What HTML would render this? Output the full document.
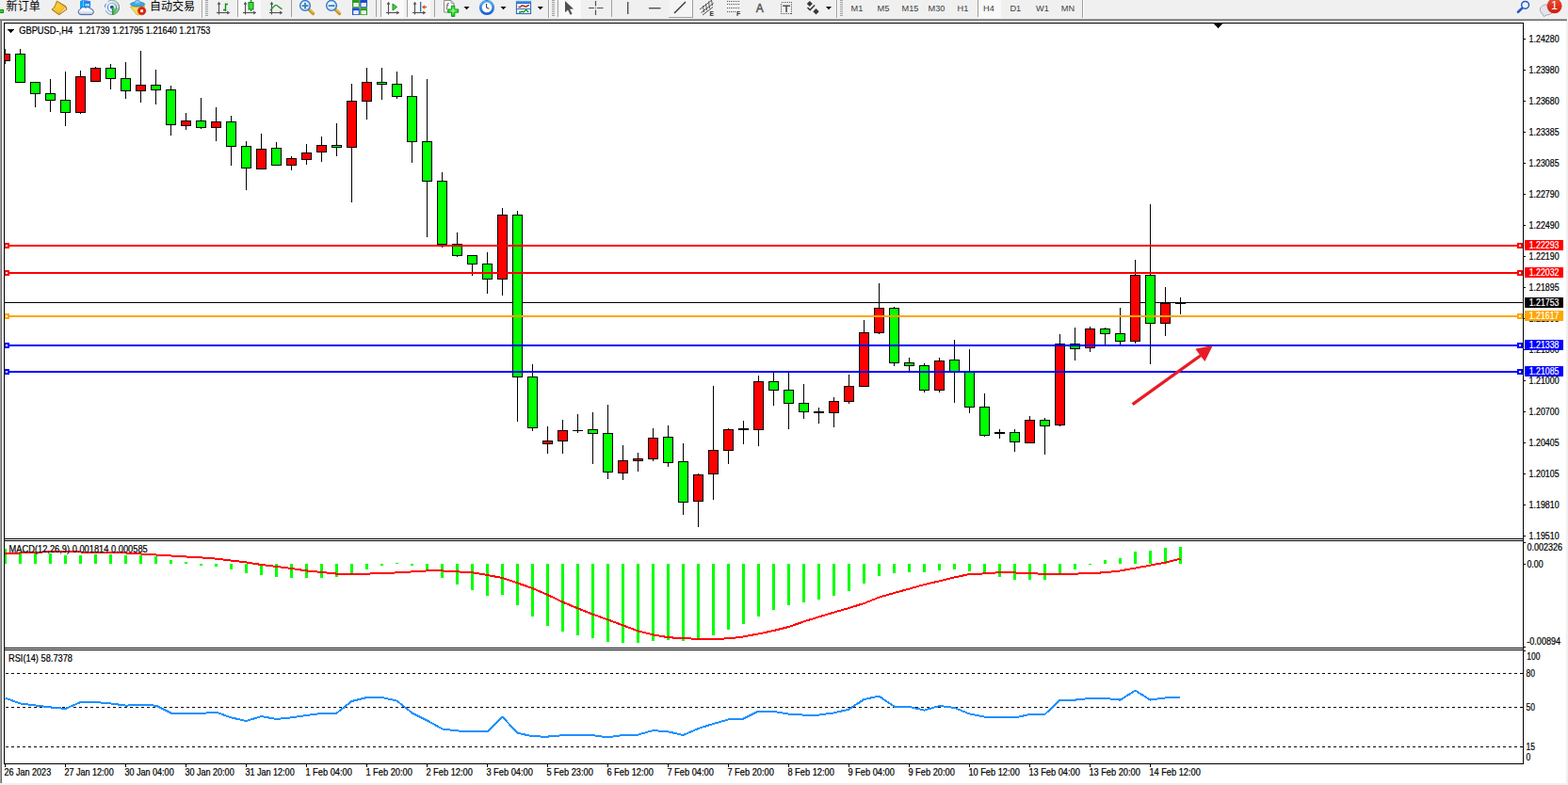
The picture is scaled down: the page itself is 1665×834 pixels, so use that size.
<!DOCTYPE html>
<html><head><meta charset="utf-8"><title>GBPUSD H4</title>
<style>
html,body{margin:0;padding:0;background:#fff;overflow:hidden}
body{width:1665px;height:834px;font-family:"Liberation Sans", sans-serif}
svg{position:absolute;left:0;top:0;display:block}
text{font-family:"Liberation Sans", sans-serif;white-space:pre}
</style></head><body>
<svg width="1665" height="834" viewBox="0 0 1665 834">
<g shape-rendering="crispEdges">
<rect x="0" y="0" width="1665" height="834" fill="#ffffff"/>
<rect x="0" y="0" width="1665" height="20" fill="#f0f0f0"/>
<rect x="0" y="20" width="1664" height="1" fill="#a0a0a0"/>
<rect x="0" y="21" width="1664" height="1" fill="#696969"/>
<rect x="0" y="22" width="1" height="810" fill="#a0a0a0"/>
<rect x="1" y="22" width="1" height="810" fill="#696969"/>
<rect x="1663" y="22" width="2" height="812" fill="#f0f0f0"/>
<rect x="0" y="832" width="1665" height="2" fill="#f0f0f0"/>
</g>
<defs><clipPath id="cm"><rect x="5" y="25" width="1612" height="547"/></clipPath></defs>
<g shape-rendering="crispEdges" clip-path="url(#cm)">
<rect x="5" y="321" width="1613" height="1" fill="#000"/>
<rect x="5" y="52" width="1" height="16" fill="#000"/>
<rect x="0" y="57" width="11" height="8" fill="#000"/>
<rect x="1" y="58" width="9" height="6" fill="#ff0000"/>
<rect x="21" y="52" width="1" height="36" fill="#000"/>
<rect x="16" y="57" width="11" height="31" fill="#000"/>
<rect x="17" y="58" width="9" height="29" fill="#00ff00"/>
<rect x="37" y="87" width="1" height="27" fill="#000"/>
<rect x="32" y="87" width="11" height="13" fill="#000"/>
<rect x="33" y="88" width="9" height="11" fill="#00ff00"/>
<rect x="53" y="84" width="1" height="35" fill="#000"/>
<rect x="48" y="99" width="11" height="8" fill="#000"/>
<rect x="49" y="100" width="9" height="6" fill="#00ff00"/>
<rect x="69" y="76" width="1" height="58" fill="#000"/>
<rect x="64" y="106" width="11" height="14" fill="#000"/>
<rect x="65" y="107" width="9" height="12" fill="#00ff00"/>
<rect x="85" y="75" width="1" height="46" fill="#000"/>
<rect x="80" y="81" width="11" height="39" fill="#000"/>
<rect x="81" y="82" width="9" height="37" fill="#ff0000"/>
<rect x="101" y="71" width="1" height="16" fill="#000"/>
<rect x="96" y="72" width="11" height="15" fill="#000"/>
<rect x="97" y="73" width="9" height="13" fill="#ff0000"/>
<rect x="117" y="68" width="1" height="27" fill="#000"/>
<rect x="112" y="72" width="11" height="12" fill="#000"/>
<rect x="113" y="73" width="9" height="10" fill="#00ff00"/>
<rect x="133" y="66" width="1" height="39" fill="#000"/>
<rect x="128" y="83" width="11" height="14" fill="#000"/>
<rect x="129" y="84" width="9" height="12" fill="#00ff00"/>
<rect x="149" y="54" width="1" height="55" fill="#000"/>
<rect x="144" y="90" width="11" height="7" fill="#000"/>
<rect x="145" y="91" width="9" height="5" fill="#ff0000"/>
<rect x="165" y="74" width="1" height="37" fill="#000"/>
<rect x="160" y="90" width="11" height="6" fill="#000"/>
<rect x="161" y="91" width="9" height="4" fill="#00ff00"/>
<rect x="181" y="91" width="1" height="53" fill="#000"/>
<rect x="176" y="95" width="11" height="38" fill="#000"/>
<rect x="177" y="96" width="9" height="36" fill="#00ff00"/>
<rect x="197" y="120" width="1" height="18" fill="#000"/>
<rect x="192" y="128" width="11" height="6" fill="#000"/>
<rect x="193" y="129" width="9" height="4" fill="#ff0000"/>
<rect x="213" y="104" width="1" height="33" fill="#000"/>
<rect x="208" y="128" width="11" height="8" fill="#000"/>
<rect x="209" y="129" width="9" height="6" fill="#00ff00"/>
<rect x="229" y="114" width="1" height="36" fill="#000"/>
<rect x="224" y="129" width="11" height="7" fill="#000"/>
<rect x="225" y="130" width="9" height="5" fill="#ff0000"/>
<rect x="245" y="123" width="1" height="53" fill="#000"/>
<rect x="240" y="129" width="11" height="27" fill="#000"/>
<rect x="241" y="130" width="9" height="25" fill="#00ff00"/>
<rect x="261" y="150" width="1" height="52" fill="#000"/>
<rect x="256" y="155" width="11" height="24" fill="#000"/>
<rect x="257" y="156" width="9" height="22" fill="#00ff00"/>
<rect x="277" y="142" width="1" height="38" fill="#000"/>
<rect x="272" y="158" width="11" height="22" fill="#000"/>
<rect x="273" y="159" width="9" height="20" fill="#ff0000"/>
<rect x="293" y="151" width="1" height="25" fill="#000"/>
<rect x="288" y="157" width="11" height="19" fill="#000"/>
<rect x="289" y="158" width="9" height="17" fill="#00ff00"/>
<rect x="309" y="166" width="1" height="15" fill="#000"/>
<rect x="304" y="168" width="11" height="8" fill="#000"/>
<rect x="305" y="169" width="9" height="6" fill="#ff0000"/>
<rect x="325" y="153" width="1" height="22" fill="#000"/>
<rect x="320" y="162" width="11" height="8" fill="#000"/>
<rect x="321" y="163" width="9" height="6" fill="#ff0000"/>
<rect x="341" y="145" width="1" height="27" fill="#000"/>
<rect x="336" y="154" width="11" height="8" fill="#000"/>
<rect x="337" y="155" width="9" height="6" fill="#ff0000"/>
<rect x="357" y="131" width="1" height="35" fill="#000"/>
<rect x="352" y="154" width="11" height="3" fill="#000"/>
<rect x="353" y="155" width="9" height="1" fill="#00ff00"/>
<rect x="373" y="89" width="1" height="126" fill="#000"/>
<rect x="368" y="107" width="11" height="50" fill="#000"/>
<rect x="369" y="108" width="9" height="48" fill="#ff0000"/>
<rect x="389" y="72" width="1" height="55" fill="#000"/>
<rect x="384" y="87" width="11" height="21" fill="#000"/>
<rect x="385" y="88" width="9" height="19" fill="#ff0000"/>
<rect x="405" y="72" width="1" height="34" fill="#000"/>
<rect x="400" y="87" width="11" height="3" fill="#000"/>
<rect x="401" y="88" width="9" height="1" fill="#00ff00"/>
<rect x="421" y="76" width="1" height="29" fill="#000"/>
<rect x="416" y="89" width="11" height="14" fill="#000"/>
<rect x="417" y="90" width="9" height="12" fill="#00ff00"/>
<rect x="437" y="80" width="1" height="93" fill="#000"/>
<rect x="432" y="102" width="11" height="49" fill="#000"/>
<rect x="433" y="103" width="9" height="47" fill="#00ff00"/>
<rect x="453" y="84" width="1" height="168" fill="#000"/>
<rect x="448" y="150" width="11" height="43" fill="#000"/>
<rect x="449" y="151" width="9" height="41" fill="#00ff00"/>
<rect x="469" y="183" width="1" height="80" fill="#000"/>
<rect x="464" y="192" width="11" height="68" fill="#000"/>
<rect x="465" y="193" width="9" height="66" fill="#00ff00"/>
<rect x="485" y="247" width="1" height="26" fill="#000"/>
<rect x="480" y="259" width="11" height="13" fill="#000"/>
<rect x="481" y="260" width="9" height="11" fill="#00ff00"/>
<rect x="501" y="271" width="1" height="22" fill="#000"/>
<rect x="496" y="271" width="11" height="10" fill="#000"/>
<rect x="497" y="272" width="9" height="8" fill="#00ff00"/>
<rect x="517" y="268" width="1" height="44" fill="#000"/>
<rect x="512" y="280" width="11" height="17" fill="#000"/>
<rect x="513" y="281" width="9" height="15" fill="#00ff00"/>
<rect x="533" y="221" width="1" height="93" fill="#000"/>
<rect x="528" y="228" width="11" height="69" fill="#000"/>
<rect x="529" y="229" width="9" height="67" fill="#ff0000"/>
<rect x="549" y="224" width="1" height="224" fill="#000"/>
<rect x="544" y="228" width="11" height="173" fill="#000"/>
<rect x="545" y="229" width="9" height="171" fill="#00ff00"/>
<rect x="565" y="387" width="1" height="71" fill="#000"/>
<rect x="560" y="400" width="11" height="55" fill="#000"/>
<rect x="561" y="401" width="9" height="53" fill="#00ff00"/>
<rect x="581" y="453" width="1" height="29" fill="#000"/>
<rect x="576" y="468" width="11" height="4" fill="#000"/>
<rect x="577" y="469" width="9" height="2" fill="#ff0000"/>
<rect x="597" y="446" width="1" height="36" fill="#000"/>
<rect x="592" y="457" width="11" height="12" fill="#000"/>
<rect x="593" y="458" width="9" height="10" fill="#ff0000"/>
<rect x="613" y="440" width="1" height="20" fill="#000"/>
<rect x="608" y="457" width="11" height="1" fill="#000"/>
<rect x="629" y="438" width="1" height="55" fill="#000"/>
<rect x="624" y="456" width="11" height="5" fill="#000"/>
<rect x="625" y="457" width="9" height="3" fill="#00ff00"/>
<rect x="645" y="430" width="1" height="79" fill="#000"/>
<rect x="640" y="460" width="11" height="42" fill="#000"/>
<rect x="641" y="461" width="9" height="40" fill="#00ff00"/>
<rect x="661" y="473" width="1" height="37" fill="#000"/>
<rect x="656" y="489" width="11" height="14" fill="#000"/>
<rect x="657" y="490" width="9" height="12" fill="#ff0000"/>
<rect x="677" y="481" width="1" height="20" fill="#000"/>
<rect x="672" y="487" width="11" height="3" fill="#000"/>
<rect x="673" y="488" width="9" height="1" fill="#ff0000"/>
<rect x="693" y="455" width="1" height="35" fill="#000"/>
<rect x="688" y="465" width="11" height="23" fill="#000"/>
<rect x="689" y="466" width="9" height="21" fill="#ff0000"/>
<rect x="709" y="452" width="1" height="44" fill="#000"/>
<rect x="704" y="464" width="11" height="28" fill="#000"/>
<rect x="705" y="465" width="9" height="26" fill="#00ff00"/>
<rect x="725" y="471" width="1" height="76" fill="#000"/>
<rect x="720" y="490" width="11" height="44" fill="#000"/>
<rect x="721" y="491" width="9" height="42" fill="#00ff00"/>
<rect x="741" y="503" width="1" height="57" fill="#000"/>
<rect x="736" y="504" width="11" height="29" fill="#000"/>
<rect x="737" y="505" width="9" height="27" fill="#ff0000"/>
<rect x="757" y="410" width="1" height="121" fill="#000"/>
<rect x="752" y="478" width="11" height="26" fill="#000"/>
<rect x="753" y="479" width="9" height="24" fill="#ff0000"/>
<rect x="773" y="455" width="1" height="38" fill="#000"/>
<rect x="768" y="456" width="11" height="23" fill="#000"/>
<rect x="769" y="457" width="9" height="21" fill="#ff0000"/>
<rect x="789" y="447" width="1" height="25" fill="#000"/>
<rect x="784" y="455" width="11" height="2" fill="#000"/>
<rect x="805" y="399" width="1" height="75" fill="#000"/>
<rect x="800" y="405" width="11" height="52" fill="#000"/>
<rect x="801" y="406" width="9" height="50" fill="#ff0000"/>
<rect x="821" y="396" width="1" height="35" fill="#000"/>
<rect x="816" y="405" width="11" height="10" fill="#000"/>
<rect x="817" y="406" width="9" height="8" fill="#00ff00"/>
<rect x="837" y="396" width="1" height="60" fill="#000"/>
<rect x="832" y="414" width="11" height="15" fill="#000"/>
<rect x="833" y="415" width="9" height="13" fill="#00ff00"/>
<rect x="853" y="408" width="1" height="37" fill="#000"/>
<rect x="848" y="428" width="11" height="10" fill="#000"/>
<rect x="849" y="429" width="9" height="8" fill="#00ff00"/>
<rect x="869" y="433" width="1" height="17" fill="#000"/>
<rect x="864" y="437" width="11" height="2" fill="#000"/>
<rect x="885" y="422" width="1" height="32" fill="#000"/>
<rect x="880" y="426" width="11" height="13" fill="#000"/>
<rect x="881" y="427" width="9" height="11" fill="#ff0000"/>
<rect x="901" y="398" width="1" height="31" fill="#000"/>
<rect x="896" y="410" width="11" height="17" fill="#000"/>
<rect x="897" y="411" width="9" height="15" fill="#ff0000"/>
<rect x="917" y="340" width="1" height="71" fill="#000"/>
<rect x="912" y="353" width="11" height="58" fill="#000"/>
<rect x="913" y="354" width="9" height="56" fill="#ff0000"/>
<rect x="933" y="301" width="1" height="54" fill="#000"/>
<rect x="928" y="327" width="11" height="27" fill="#000"/>
<rect x="929" y="328" width="9" height="25" fill="#ff0000"/>
<rect x="949" y="326" width="1" height="63" fill="#000"/>
<rect x="944" y="327" width="11" height="59" fill="#000"/>
<rect x="945" y="328" width="9" height="57" fill="#00ff00"/>
<rect x="965" y="380" width="1" height="14" fill="#000"/>
<rect x="960" y="385" width="11" height="4" fill="#000"/>
<rect x="961" y="386" width="9" height="2" fill="#00ff00"/>
<rect x="981" y="386" width="1" height="31" fill="#000"/>
<rect x="976" y="388" width="11" height="27" fill="#000"/>
<rect x="977" y="389" width="9" height="25" fill="#00ff00"/>
<rect x="997" y="380" width="1" height="37" fill="#000"/>
<rect x="992" y="383" width="11" height="32" fill="#000"/>
<rect x="993" y="384" width="9" height="30" fill="#ff0000"/>
<rect x="1013" y="361" width="1" height="67" fill="#000"/>
<rect x="1008" y="382" width="11" height="14" fill="#000"/>
<rect x="1009" y="383" width="9" height="12" fill="#00ff00"/>
<rect x="1029" y="371" width="1" height="68" fill="#000"/>
<rect x="1024" y="394" width="11" height="39" fill="#000"/>
<rect x="1025" y="395" width="9" height="37" fill="#00ff00"/>
<rect x="1045" y="418" width="1" height="46" fill="#000"/>
<rect x="1040" y="432" width="11" height="31" fill="#000"/>
<rect x="1041" y="433" width="9" height="29" fill="#00ff00"/>
<rect x="1061" y="456" width="1" height="10" fill="#000"/>
<rect x="1056" y="459" width="11" height="2" fill="#000"/>
<rect x="1077" y="456" width="1" height="24" fill="#000"/>
<rect x="1072" y="459" width="11" height="11" fill="#000"/>
<rect x="1073" y="460" width="9" height="9" fill="#00ff00"/>
<rect x="1093" y="442" width="1" height="29" fill="#000"/>
<rect x="1088" y="446" width="11" height="25" fill="#000"/>
<rect x="1089" y="447" width="9" height="23" fill="#ff0000"/>
<rect x="1109" y="444" width="1" height="39" fill="#000"/>
<rect x="1104" y="446" width="11" height="7" fill="#000"/>
<rect x="1105" y="447" width="9" height="5" fill="#00ff00"/>
<rect x="1125" y="355" width="1" height="98" fill="#000"/>
<rect x="1120" y="365" width="11" height="87" fill="#000"/>
<rect x="1121" y="366" width="9" height="85" fill="#ff0000"/>
<rect x="1141" y="348" width="1" height="35" fill="#000"/>
<rect x="1136" y="365" width="11" height="6" fill="#000"/>
<rect x="1137" y="366" width="9" height="4" fill="#00ff00"/>
<rect x="1157" y="347" width="1" height="27" fill="#000"/>
<rect x="1152" y="349" width="11" height="21" fill="#000"/>
<rect x="1153" y="350" width="9" height="19" fill="#ff0000"/>
<rect x="1173" y="348" width="1" height="18" fill="#000"/>
<rect x="1168" y="349" width="11" height="6" fill="#000"/>
<rect x="1169" y="350" width="9" height="4" fill="#00ff00"/>
<rect x="1189" y="327" width="1" height="39" fill="#000"/>
<rect x="1184" y="354" width="11" height="9" fill="#000"/>
<rect x="1185" y="355" width="9" height="7" fill="#00ff00"/>
<rect x="1205" y="276" width="1" height="89" fill="#000"/>
<rect x="1200" y="292" width="11" height="71" fill="#000"/>
<rect x="1201" y="293" width="9" height="69" fill="#ff0000"/>
<rect x="1221" y="217" width="1" height="170" fill="#000"/>
<rect x="1216" y="292" width="11" height="52" fill="#000"/>
<rect x="1217" y="293" width="9" height="50" fill="#00ff00"/>
<rect x="1237" y="305" width="1" height="52" fill="#000"/>
<rect x="1232" y="322" width="11" height="22" fill="#000"/>
<rect x="1233" y="323" width="9" height="20" fill="#ff0000"/>
<rect x="1253" y="316" width="1" height="18" fill="#000"/>
<rect x="1248" y="322" width="11" height="1" fill="#000"/>
</g><g shape-rendering="crispEdges">
<rect x="5" y="260" width="1613" height="2" fill="#ff0000"/>
<rect x="4" y="258" width="6" height="6" fill="#ff0000"/>
<rect x="6" y="260" width="2" height="2" fill="#fff"/>
<rect x="1611" y="258" width="6" height="6" fill="#ff0000"/>
<rect x="1613" y="260" width="2" height="2" fill="#fff"/>
<rect x="5" y="289" width="1613" height="2" fill="#ff0000"/>
<rect x="4" y="287" width="6" height="6" fill="#ff0000"/>
<rect x="6" y="289" width="2" height="2" fill="#fff"/>
<rect x="1611" y="287" width="6" height="6" fill="#ff0000"/>
<rect x="1613" y="289" width="2" height="2" fill="#fff"/>
<rect x="5" y="335" width="1613" height="2" fill="#ffa500"/>
<rect x="4" y="333" width="6" height="6" fill="#ffa500"/>
<rect x="6" y="335" width="2" height="2" fill="#fff"/>
<rect x="1611" y="333" width="6" height="6" fill="#ffa500"/>
<rect x="1613" y="335" width="2" height="2" fill="#fff"/>
<rect x="5" y="366" width="1613" height="2" fill="#0000ff"/>
<rect x="4" y="364" width="6" height="6" fill="#0000ff"/>
<rect x="6" y="366" width="2" height="2" fill="#fff"/>
<rect x="1611" y="364" width="6" height="6" fill="#0000ff"/>
<rect x="1613" y="366" width="2" height="2" fill="#fff"/>
<rect x="5" y="394" width="1613" height="2" fill="#0000ff"/>
<rect x="4" y="392" width="6" height="6" fill="#0000ff"/>
<rect x="6" y="394" width="2" height="2" fill="#fff"/>
<rect x="1611" y="392" width="6" height="6" fill="#0000ff"/>
<rect x="1613" y="394" width="2" height="2" fill="#fff"/>
</g>
<g fill="#e81c24" stroke="none"><path d="M1201.65 428.3 L1203.55 430.9 L1275.9 379 L1274 376.4 Z"/><path d="M1287.9 366.9 L1269.3 370.7 L1279.4 384.1 Z"/></g>
<g shape-rendering="crispEdges">
<rect x="4" y="583" width="3" height="16" fill="#00ff00"/>
<rect x="20" y="586" width="3" height="13" fill="#00ff00"/>
<rect x="36" y="587" width="3" height="12" fill="#00ff00"/>
<rect x="52" y="588" width="3" height="11" fill="#00ff00"/>
<rect x="68" y="590" width="3" height="9" fill="#00ff00"/>
<rect x="84" y="590" width="3" height="9" fill="#00ff00"/>
<rect x="100" y="589" width="3" height="10" fill="#00ff00"/>
<rect x="116" y="589" width="3" height="10" fill="#00ff00"/>
<rect x="132" y="590" width="3" height="9" fill="#00ff00"/>
<rect x="148" y="590" width="3" height="9" fill="#00ff00"/>
<rect x="164" y="591" width="3" height="8" fill="#00ff00"/>
<rect x="180" y="595" width="3" height="4" fill="#00ff00"/>
<rect x="196" y="597" width="3" height="2" fill="#00ff00"/>
<rect x="212" y="599" width="3" height="2" fill="#00ff00"/>
<rect x="228" y="599" width="3" height="3" fill="#00ff00"/>
<rect x="244" y="599" width="3" height="6" fill="#00ff00"/>
<rect x="260" y="599" width="3" height="10" fill="#00ff00"/>
<rect x="276" y="599" width="3" height="12" fill="#00ff00"/>
<rect x="292" y="599" width="3" height="14" fill="#00ff00"/>
<rect x="308" y="599" width="3" height="15" fill="#00ff00"/>
<rect x="324" y="599" width="3" height="15" fill="#00ff00"/>
<rect x="340" y="599" width="3" height="15" fill="#00ff00"/>
<rect x="356" y="599" width="3" height="14" fill="#00ff00"/>
<rect x="372" y="599" width="3" height="10" fill="#00ff00"/>
<rect x="388" y="599" width="3" height="6" fill="#00ff00"/>
<rect x="404" y="599" width="3" height="2" fill="#00ff00"/>
<rect x="420" y="598" width="3" height="1" fill="#00ff00"/>
<rect x="436" y="599" width="3" height="2" fill="#00ff00"/>
<rect x="452" y="599" width="3" height="7" fill="#00ff00"/>
<rect x="468" y="599" width="3" height="15" fill="#00ff00"/>
<rect x="484" y="599" width="3" height="22" fill="#00ff00"/>
<rect x="500" y="599" width="3" height="28" fill="#00ff00"/>
<rect x="516" y="599" width="3" height="34" fill="#00ff00"/>
<rect x="532" y="599" width="3" height="33" fill="#00ff00"/>
<rect x="548" y="599" width="3" height="44" fill="#00ff00"/>
<rect x="564" y="599" width="3" height="56" fill="#00ff00"/>
<rect x="580" y="599" width="3" height="66" fill="#00ff00"/>
<rect x="596" y="599" width="3" height="72" fill="#00ff00"/>
<rect x="612" y="599" width="3" height="76" fill="#00ff00"/>
<rect x="628" y="599" width="3" height="79" fill="#00ff00"/>
<rect x="644" y="599" width="3" height="83" fill="#00ff00"/>
<rect x="660" y="599" width="3" height="84" fill="#00ff00"/>
<rect x="676" y="599" width="3" height="84" fill="#00ff00"/>
<rect x="692" y="599" width="3" height="82" fill="#00ff00"/>
<rect x="708" y="599" width="3" height="81" fill="#00ff00"/>
<rect x="724" y="599" width="3" height="82" fill="#00ff00"/>
<rect x="740" y="599" width="3" height="79" fill="#00ff00"/>
<rect x="756" y="599" width="3" height="76" fill="#00ff00"/>
<rect x="772" y="599" width="3" height="70" fill="#00ff00"/>
<rect x="788" y="599" width="3" height="64" fill="#00ff00"/>
<rect x="804" y="599" width="3" height="56" fill="#00ff00"/>
<rect x="820" y="599" width="3" height="49" fill="#00ff00"/>
<rect x="836" y="599" width="3" height="44" fill="#00ff00"/>
<rect x="852" y="599" width="3" height="41" fill="#00ff00"/>
<rect x="868" y="599" width="3" height="38" fill="#00ff00"/>
<rect x="884" y="599" width="3" height="34" fill="#00ff00"/>
<rect x="900" y="599" width="3" height="29" fill="#00ff00"/>
<rect x="916" y="599" width="3" height="21" fill="#00ff00"/>
<rect x="932" y="599" width="3" height="13" fill="#00ff00"/>
<rect x="948" y="599" width="3" height="10" fill="#00ff00"/>
<rect x="964" y="599" width="3" height="9" fill="#00ff00"/>
<rect x="980" y="599" width="3" height="9" fill="#00ff00"/>
<rect x="996" y="599" width="3" height="7" fill="#00ff00"/>
<rect x="1012" y="599" width="3" height="6" fill="#00ff00"/>
<rect x="1028" y="599" width="3" height="8" fill="#00ff00"/>
<rect x="1044" y="599" width="3" height="11" fill="#00ff00"/>
<rect x="1060" y="599" width="3" height="14" fill="#00ff00"/>
<rect x="1076" y="599" width="3" height="17" fill="#00ff00"/>
<rect x="1092" y="599" width="3" height="17" fill="#00ff00"/>
<rect x="1108" y="599" width="3" height="17" fill="#00ff00"/>
<rect x="1124" y="599" width="3" height="10" fill="#00ff00"/>
<rect x="1140" y="599" width="3" height="6" fill="#00ff00"/>
<rect x="1156" y="599" width="3" height="1" fill="#00ff00"/>
<rect x="1172" y="595" width="3" height="4" fill="#00ff00"/>
<rect x="1188" y="593" width="3" height="6" fill="#00ff00"/>
<rect x="1204" y="586" width="3" height="13" fill="#00ff00"/>
<rect x="1220" y="585" width="3" height="14" fill="#00ff00"/>
<rect x="1236" y="582" width="3" height="17" fill="#00ff00"/>
<rect x="1252" y="581" width="3" height="18" fill="#00ff00"/>
</g>
<polyline points="5.5,588 21.5,587.5 37.5,587 53.5,586 69.5,586 85.5,586.5 101.5,587 117.5,587 133.5,587.5 149.5,588.5 165.5,589.5 181.5,590.5 197.5,591.5 213.5,592.4 229.5,593.6 245.5,595.6 261.5,597.4 277.5,600 293.5,602 309.5,604 325.5,606.4 341.5,608 357.5,609.6 373.5,609.6 389.5,609.6 405.5,609.2 421.5,608.4 437.5,607.4 453.5,606.4 469.5,606.4 485.5,607.4 501.5,608.2 517.5,611 533.5,614 549.5,619.4 565.5,625 581.5,632 597.5,639.6 613.5,646.4 629.5,652.6 645.5,658.4 661.5,664.4 677.5,670.4 693.5,674.4 709.5,677.2 725.5,678.2 741.5,678.8 757.5,678.8 773.5,678.4 789.5,676.4 805.5,673.4 821.5,670 837.5,666 853.5,660.4 869.5,655.4 885.5,650.6 901.5,646 917.5,641 933.5,634.6 949.5,630 965.5,625.6 981.5,621 997.5,617.4 1013.5,613.4 1029.5,610 1045.5,609.4 1061.5,608.2 1077.5,608.4 1093.5,609.4 1109.5,609.6 1125.5,609.6 1141.5,609.6 1157.5,609.2 1173.5,608.2 1189.5,606.4 1205.5,603.6 1221.5,600.6 1237.5,597.6 1253.5,593.6" fill="none" stroke="#ff0000" stroke-width="2" shape-rendering="crispEdges" stroke-linejoin="round"/>
<g shape-rendering="crispEdges" stroke="#000" stroke-width="1" stroke-dasharray="3 3">
<line x1="6" y1="715.5" x2="1617" y2="715.5"/>
<line x1="6" y1="751.5" x2="1617" y2="751.5"/>
<line x1="6" y1="793.5" x2="1617" y2="793.5"/>
</g>
<polyline points="5.5,741.6 21.5,747.4 37.5,749.4 53.5,751.4 69.5,753 85.5,746 101.5,746 117.5,747.4 133.5,749.6 149.5,749 165.5,749.6 181.5,757.6 197.5,758 213.5,758 229.5,756.6 245.5,762.4 261.5,766 277.5,761 293.5,764 309.5,762.4 325.5,760 341.5,758 357.5,757.6 373.5,745 389.5,741 405.5,741 421.5,744.6 437.5,757.4 453.5,765.4 469.5,774.4 485.5,776.4 501.5,777.4 517.5,777.4 533.5,761.6 549.5,778.6 565.5,782.4 581.5,782.6 597.5,781.2 613.5,781 629.5,781.2 645.5,783.4 661.5,781 677.5,780.6 693.5,776 709.5,777.4 725.5,781 741.5,774 757.5,769 773.5,764.4 789.5,763.6 805.5,755.6 821.5,756 837.5,758.6 853.5,759.6 869.5,759.6 885.5,757.4 901.5,753.6 917.5,743 933.5,739.6 949.5,750.6 965.5,751 981.5,754.6 997.5,750 1013.5,752 1029.5,758.4 1045.5,761.6 1061.5,762 1077.5,762.4 1093.5,759 1109.5,759 1125.5,743.6 1141.5,743.6 1157.5,742 1173.5,742 1189.5,743.6 1205.5,733.6 1221.5,743.6 1237.5,741.4 1253.5,741" fill="none" stroke="#1e90ff" stroke-width="2" shape-rendering="crispEdges" stroke-linejoin="round"/>
<g shape-rendering="crispEdges">
<rect x="4" y="24" width="1" height="788" fill="#000"/>
<rect x="1617" y="24" width="1" height="788" fill="#000"/>
<rect x="4" y="24" width="1614" height="1" fill="#000"/>
<rect x="4" y="572" width="1614" height="1" fill="#000"/>
<rect x="4" y="574" width="1614" height="1" fill="#000"/>
<rect x="4" y="688" width="1614" height="1" fill="#000"/>
<rect x="4" y="690" width="1614" height="1" fill="#000"/>
<rect x="4" y="811" width="1614" height="1" fill="#000"/>
<rect x="1289" y="25" width="9" height="1" fill="#000"/>
<rect x="1290" y="26" width="7" height="1" fill="#000"/>
<rect x="1291" y="27" width="5" height="1" fill="#000"/>
<rect x="1292" y="28" width="3" height="1" fill="#000"/>
<rect x="1293" y="29" width="1" height="1" fill="#000"/>
<rect x="8" y="31" width="7" height="1" fill="#000"/>
<rect x="9" y="32" width="5" height="1" fill="#000"/>
<rect x="10" y="33" width="3" height="1" fill="#000"/>
<rect x="11" y="34" width="1" height="1" fill="#000"/>
<rect x="1618" y="41" width="2" height="1" fill="#000"/>
<rect x="1618" y="74" width="2" height="1" fill="#000"/>
<rect x="1618" y="107" width="2" height="1" fill="#000"/>
<rect x="1618" y="140" width="2" height="1" fill="#000"/>
<rect x="1618" y="173" width="2" height="1" fill="#000"/>
<rect x="1618" y="206" width="2" height="1" fill="#000"/>
<rect x="1618" y="239" width="2" height="1" fill="#000"/>
<rect x="1618" y="272" width="2" height="1" fill="#000"/>
<rect x="1618" y="305" width="2" height="1" fill="#000"/>
<rect x="1618" y="338" width="2" height="1" fill="#000"/>
<rect x="1618" y="371" width="2" height="1" fill="#000"/>
<rect x="1618" y="404" width="2" height="1" fill="#000"/>
<rect x="1618" y="437" width="2" height="1" fill="#000"/>
<rect x="1618" y="470" width="2" height="1" fill="#000"/>
<rect x="1618" y="503" width="2" height="1" fill="#000"/>
<rect x="1618" y="536" width="2" height="1" fill="#000"/>
<rect x="1618" y="569" width="2" height="1" fill="#000"/>
<rect x="1618" y="576" width="2" height="1" fill="#000"/>
<rect x="1618" y="599" width="2" height="1" fill="#000"/>
<rect x="1618" y="687" width="2" height="1" fill="#000"/>
<rect x="1618" y="691" width="2" height="1" fill="#000"/>
<rect x="5" y="812" width="1" height="3" fill="#000"/>
<rect x="69" y="812" width="1" height="3" fill="#000"/>
<rect x="133" y="812" width="1" height="3" fill="#000"/>
<rect x="197" y="812" width="1" height="3" fill="#000"/>
<rect x="261" y="812" width="1" height="3" fill="#000"/>
<rect x="325" y="812" width="1" height="3" fill="#000"/>
<rect x="389" y="812" width="1" height="3" fill="#000"/>
<rect x="453" y="812" width="1" height="3" fill="#000"/>
<rect x="517" y="812" width="1" height="3" fill="#000"/>
<rect x="581" y="812" width="1" height="3" fill="#000"/>
<rect x="645" y="812" width="1" height="3" fill="#000"/>
<rect x="709" y="812" width="1" height="3" fill="#000"/>
<rect x="773" y="812" width="1" height="3" fill="#000"/>
<rect x="837" y="812" width="1" height="3" fill="#000"/>
<rect x="901" y="812" width="1" height="3" fill="#000"/>
<rect x="965" y="812" width="1" height="3" fill="#000"/>
<rect x="1029" y="812" width="1" height="3" fill="#000"/>
<rect x="1093" y="812" width="1" height="3" fill="#000"/>
<rect x="1157" y="812" width="1" height="3" fill="#000"/>
<rect x="1221" y="812" width="1" height="3" fill="#000"/>
</g>
<g font-family='"Liberation Sans", sans-serif' font-size="10.2" stroke="#000" stroke-width="0.22" paint-order="stroke">
<text x="1623.6" y="45" fill="#000" textLength="32" lengthAdjust="spacingAndGlyphs">1.24280</text>
<text x="1623.6" y="78" fill="#000" textLength="32" lengthAdjust="spacingAndGlyphs">1.23980</text>
<text x="1623.6" y="111" fill="#000" textLength="32" lengthAdjust="spacingAndGlyphs">1.23680</text>
<text x="1623.6" y="144" fill="#000" textLength="32" lengthAdjust="spacingAndGlyphs">1.23385</text>
<text x="1623.6" y="177" fill="#000" textLength="32" lengthAdjust="spacingAndGlyphs">1.23085</text>
<text x="1623.6" y="210" fill="#000" textLength="32" lengthAdjust="spacingAndGlyphs">1.22790</text>
<text x="1623.6" y="243" fill="#000" textLength="32" lengthAdjust="spacingAndGlyphs">1.22490</text>
<text x="1623.6" y="276" fill="#000" textLength="32" lengthAdjust="spacingAndGlyphs">1.22190</text>
<text x="1623.6" y="309" fill="#000" textLength="32" lengthAdjust="spacingAndGlyphs">1.21895</text>
<text x="1623.6" y="342" fill="#000" textLength="32" lengthAdjust="spacingAndGlyphs">1.21595</text>
<text x="1623.6" y="375" fill="#000" textLength="32" lengthAdjust="spacingAndGlyphs">1.21300</text>
<text x="1623.6" y="408" fill="#000" textLength="32" lengthAdjust="spacingAndGlyphs">1.21000</text>
<text x="1623.6" y="441" fill="#000" textLength="32" lengthAdjust="spacingAndGlyphs">1.20700</text>
<text x="1623.6" y="474" fill="#000" textLength="32" lengthAdjust="spacingAndGlyphs">1.20405</text>
<text x="1623.6" y="507" fill="#000" textLength="32" lengthAdjust="spacingAndGlyphs">1.20105</text>
<text x="1623.6" y="540" fill="#000" textLength="32" lengthAdjust="spacingAndGlyphs">1.19810</text>
<text x="1623.6" y="573" fill="#000" textLength="32" lengthAdjust="spacingAndGlyphs">1.19510</text>
<text x="1621.4" y="585" fill="#000" textLength="37.7" lengthAdjust="spacingAndGlyphs">0.002326</text>
<text x="1621.4" y="603" fill="#000" textLength="17.3" lengthAdjust="spacingAndGlyphs">0.00</text>
<text x="1621.2" y="685" fill="#000" textLength="36" lengthAdjust="spacingAndGlyphs">-0.00894</text>
<text x="1621.3" y="701" fill="#000" textLength="14.2" lengthAdjust="spacingAndGlyphs">100</text>
<text x="1620.5" y="719" fill="#000" textLength="9.4" lengthAdjust="spacingAndGlyphs">80</text>
<text x="1620.5" y="755" fill="#000" textLength="9.4" lengthAdjust="spacingAndGlyphs">50</text>
<text x="1620.5" y="797" fill="#000" textLength="9.4" lengthAdjust="spacingAndGlyphs">15</text>
<text x="1620.5" y="808" fill="#000" textLength="4.7" lengthAdjust="spacingAndGlyphs">0</text>
<g shape-rendering="crispEdges" stroke="none">
<rect x="1619" y="255" width="41" height="11" fill="#ff0000"/>
<rect x="1619" y="284" width="41" height="11" fill="#ff0000"/>
<rect x="1619" y="330" width="41" height="11" fill="#ffa500"/>
<rect x="1619" y="361" width="41" height="11" fill="#0000ff"/>
<rect x="1619" y="389" width="41" height="11" fill="#0000ff"/>
<rect x="1619" y="316" width="41" height="11" fill="#000"/>
</g>
<text x="1623.7" y="264" fill="#fff" textLength="31.8" lengthAdjust="spacingAndGlyphs" stroke="#fff">1.22293</text>
<text x="1623.7" y="293" fill="#fff" textLength="31.8" lengthAdjust="spacingAndGlyphs" stroke="#fff">1.22032</text>
<text x="1623.7" y="339" fill="#fff" textLength="31.8" lengthAdjust="spacingAndGlyphs" stroke="#fff">1.21617</text>
<text x="1623.7" y="370" fill="#fff" textLength="31.8" lengthAdjust="spacingAndGlyphs" stroke="#fff">1.21338</text>
<text x="1623.7" y="398" fill="#fff" textLength="31.8" lengthAdjust="spacingAndGlyphs" stroke="#fff">1.21085</text>
<text x="1623.7" y="325" fill="#fff" textLength="31.8" lengthAdjust="spacingAndGlyphs" stroke="#fff">1.21753</text>
<text x="20.2" y="36" fill="#000" textLength="56.9" lengthAdjust="spacingAndGlyphs">GBPUSD-,H4</text>
<text x="83.6" y="36" fill="#000" textLength="139.8" lengthAdjust="spacingAndGlyphs">1.21739 1.21795 1.21640 1.21753</text>
<text x="9.6" y="587" fill="#000" textLength="147.2" lengthAdjust="spacingAndGlyphs">MACD(12,26,9) 0.001814 0.000585</text>
<text x="9" y="703" fill="#000" textLength="68" lengthAdjust="spacingAndGlyphs">RSI(14) 58.7378</text>
<text x="4.4" y="824" fill="#000" textLength="49.8" lengthAdjust="spacingAndGlyphs">26 Jan 2023</text>
<text x="68.4" y="824" fill="#000" textLength="52.3" lengthAdjust="spacingAndGlyphs">27 Jan 12:00</text>
<text x="132.4" y="824" fill="#000" textLength="52.3" lengthAdjust="spacingAndGlyphs">30 Jan 04:00</text>
<text x="196.4" y="824" fill="#000" textLength="52.3" lengthAdjust="spacingAndGlyphs">30 Jan 20:00</text>
<text x="260.4" y="824" fill="#000" textLength="52.3" lengthAdjust="spacingAndGlyphs">31 Jan 12:00</text>
<text x="324.4" y="824" fill="#000" textLength="49.4" lengthAdjust="spacingAndGlyphs">1 Feb 04:00</text>
<text x="388.4" y="824" fill="#000" textLength="49.4" lengthAdjust="spacingAndGlyphs">1 Feb 20:00</text>
<text x="452.4" y="824" fill="#000" textLength="49.4" lengthAdjust="spacingAndGlyphs">2 Feb 12:00</text>
<text x="516.4" y="824" fill="#000" textLength="49.4" lengthAdjust="spacingAndGlyphs">3 Feb 04:00</text>
<text x="580.4" y="824" fill="#000" textLength="49.4" lengthAdjust="spacingAndGlyphs">5 Feb 23:00</text>
<text x="644.4" y="824" fill="#000" textLength="49.4" lengthAdjust="spacingAndGlyphs">6 Feb 12:00</text>
<text x="708.4" y="824" fill="#000" textLength="49.4" lengthAdjust="spacingAndGlyphs">7 Feb 04:00</text>
<text x="772.4" y="824" fill="#000" textLength="49.4" lengthAdjust="spacingAndGlyphs">7 Feb 20:00</text>
<text x="836.4" y="824" fill="#000" textLength="49.4" lengthAdjust="spacingAndGlyphs">8 Feb 12:00</text>
<text x="900.4" y="824" fill="#000" textLength="49.4" lengthAdjust="spacingAndGlyphs">9 Feb 04:00</text>
<text x="964.4" y="824" fill="#000" textLength="49.4" lengthAdjust="spacingAndGlyphs">9 Feb 20:00</text>
<text x="1028.4" y="824" fill="#000" textLength="54.4" lengthAdjust="spacingAndGlyphs">10 Feb 12:00</text>
<text x="1092.4" y="824" fill="#000" textLength="54.4" lengthAdjust="spacingAndGlyphs">13 Feb 04:00</text>
<text x="1156.4" y="824" fill="#000" textLength="54.4" lengthAdjust="spacingAndGlyphs">13 Feb 20:00</text>
<text x="1220.4" y="824" fill="#000" textLength="54.4" lengthAdjust="spacingAndGlyphs">14 Feb 12:00</text>
</g>
<g id="toolbar">
<g shape-rendering="crispEdges">
<rect x="253" y="0" width="24" height="19" fill="#f9f9f9"/>
<rect x="405" y="0" width="24" height="19" fill="#f9f9f9"/>
<rect x="433" y="0" width="24" height="19" fill="#f9f9f9"/>
<rect x="593" y="0" width="24" height="19" fill="#f9f9f9"/>
<rect x="1039" y="0" width="24" height="19" fill="#f9f9f9"/>
<rect x="710" y="0" width="26" height="19" fill="#f4f4f4"/><rect x="735" y="0" width="1" height="19" fill="#a0a0a0"/><rect x="710" y="18" width="26" height="1" fill="#a0a0a0"/>
<rect x="214" y="0" width="1" height="19" fill="#a0a0a0"/><rect x="215" y="0" width="1" height="19" fill="#ffffff"/>
<rect x="218" y="0" width="3" height="1" fill="#a0a0a0"/><rect x="218" y="2" width="3" height="1" fill="#a0a0a0"/><rect x="218" y="4" width="3" height="1" fill="#a0a0a0"/><rect x="218" y="6" width="3" height="1" fill="#a0a0a0"/><rect x="218" y="8" width="3" height="1" fill="#a0a0a0"/><rect x="218" y="10" width="3" height="1" fill="#a0a0a0"/><rect x="218" y="12" width="3" height="1" fill="#a0a0a0"/><rect x="218" y="14" width="3" height="1" fill="#a0a0a0"/><rect x="218" y="16" width="3" height="1" fill="#a0a0a0"/>
<rect x="252" y="0" width="1" height="18" fill="#a0a0a0"/>
<rect x="309" y="0" width="1" height="18" fill="#a0a0a0"/>
<rect x="399" y="0" width="1" height="18" fill="#a0a0a0"/>
<rect x="404" y="0" width="1" height="18" fill="#a0a0a0"/>
<rect x="432" y="0" width="1" height="18" fill="#a0a0a0"/>
<rect x="461" y="0" width="1" height="18" fill="#a0a0a0"/>
<rect x="592" y="0" width="1" height="18" fill="#a0a0a0"/>
<rect x="649" y="0" width="1" height="18" fill="#a0a0a0"/>
<rect x="1038" y="0" width="1" height="18" fill="#a0a0a0"/>
<rect x="1149" y="0" width="1" height="19" fill="#a0a0a0"/><rect x="1150" y="0" width="1" height="19" fill="#ffffff"/>
<rect x="582" y="0" width="1" height="19" fill="#a0a0a0"/><rect x="583" y="0" width="1" height="19" fill="#ffffff"/>
<rect x="586" y="0" width="3" height="1" fill="#a0a0a0"/><rect x="586" y="2" width="3" height="1" fill="#a0a0a0"/><rect x="586" y="4" width="3" height="1" fill="#a0a0a0"/><rect x="586" y="6" width="3" height="1" fill="#a0a0a0"/><rect x="586" y="8" width="3" height="1" fill="#a0a0a0"/><rect x="586" y="10" width="3" height="1" fill="#a0a0a0"/><rect x="586" y="12" width="3" height="1" fill="#a0a0a0"/><rect x="586" y="14" width="3" height="1" fill="#a0a0a0"/><rect x="586" y="16" width="3" height="1" fill="#a0a0a0"/>
<rect x="888" y="0" width="1" height="19" fill="#a0a0a0"/><rect x="889" y="0" width="1" height="19" fill="#ffffff"/>
<rect x="892" y="0" width="3" height="1" fill="#a0a0a0"/><rect x="892" y="2" width="3" height="1" fill="#a0a0a0"/><rect x="892" y="4" width="3" height="1" fill="#a0a0a0"/><rect x="892" y="6" width="3" height="1" fill="#a0a0a0"/><rect x="892" y="8" width="3" height="1" fill="#a0a0a0"/><rect x="892" y="10" width="3" height="1" fill="#a0a0a0"/><rect x="892" y="12" width="3" height="1" fill="#a0a0a0"/><rect x="892" y="14" width="3" height="1" fill="#a0a0a0"/><rect x="892" y="16" width="3" height="1" fill="#a0a0a0"/>
<rect x="0" y="10" width="4" height="4" fill="#109010"/><rect x="0" y="11" width="3" height="2" fill="#30d030"/>
</g>
<text x="6.6" y="11.4" font-size="12.1" fill="#000" style='font-family:"Liberation Sans", "Noto Sans CJK SC", sans-serif'>新订单</text>
<text x="158.9" y="11.2" font-size="12" fill="#000" style='font-family:"Liberation Sans", "Noto Sans CJK SC", sans-serif'>自动交易</text>
<defs><linearGradient id="gold" x1="0" y1="0" x2="1" y2="1"><stop offset="0" stop-color="#f8d040"/><stop offset=".5" stop-color="#e8b018"/><stop offset="1" stop-color="#c08010"/></linearGradient><linearGradient id="blu" x1="0" y1="0" x2="0" y2="1"><stop offset="0" stop-color="#58b0f0"/><stop offset="1" stop-color="#1860d0"/></linearGradient><linearGradient id="redg" x1="0" y1="0" x2="0" y2="1"><stop offset="0" stop-color="#e85030"/><stop offset="1" stop-color="#d01c10"/></linearGradient><radialGradient id="lens" cx=".4" cy=".35" r=".7"><stop offset="0" stop-color="#ffffff"/><stop offset="1" stop-color="#b8dcf4"/></radialGradient></defs>
<path d="M60.4 1.2 L69.8 6.7 L71 9.8 L62.8 15.7 L55 10.1 Q57.8 8.6 58.9 5.2 Z" fill="url(#gold)" stroke="#a86c14" stroke-width="1" stroke-linejoin="round"/><path d="M69.3 7.6 L70.3 9.7 L63 14.9 L64.4 13.3 Z" fill="#e8dca8"/><path d="M60.6 2.6 L68.6 7.4 L63.6 13.2 L57.4 9.6 Q59.6 7 60.6 2.6 Z" fill="#ffdc40" opacity=".6"/><path d="M55.6 10.3 L62.8 15.1" stroke="#c88c18" stroke-width="1.6"/><path d="M56.4 9.9 L63.3 14.2" stroke="#f8e080" stroke-width=".7"/>
<defs><linearGradient id="cl" x1="0" y1="0" x2="0" y2="1"><stop offset="0" stop-color="#ffffff"/><stop offset=".5" stop-color="#f0f4fc"/><stop offset="1" stop-color="#b4c0dc"/></linearGradient></defs><path d="M85 1.3 L88.6 .2 L96.1 1.2 L96.1 9.5 L85 9.5 Z" fill="#1484f0"/><path d="M85 1.3 L88.6 .2 L88.6 9.5 L85 9.5 Z" fill="#00a4ff"/><path d="M85 1.3 L88.6 0 L96.1 1.2 L92 1.6 Z" fill="#7484d4"/><path d="M88.6 .8 V9" stroke="#d0ecff" stroke-width=".6"/><path d="M90.4 4.2 h4.6 v1.5 h-4.6 z" fill="#e4f0ff"/><path d="M90.4 6.6 h5.7" stroke="#90c8ff" stroke-width=".6"/><path d="M86 15.6 a3 3 0 0 1 -.6 -5.9 a3.6 3.6 0 0 1 5.6 -1.4 a3.4 3.4 0 0 1 5 1.2 a3.1 3.1 0 0 1 1 6.1 z" fill="url(#cl)" stroke="#4864a4" stroke-width="1"/>
<defs><linearGradient id="bg2" x1="0" y1="0" x2="1" y2="0"><stop offset="0" stop-color="#3868d8"/><stop offset=".55" stop-color="#88a8d0"/><stop offset="1" stop-color="#48789c"/></linearGradient><radialGradient id="rd" cx=".5" cy=".5" r=".5"><stop offset="0" stop-color="#ffffff"/><stop offset="1" stop-color="#e4ece0"/></radialGradient><linearGradient id="gs" x1="1" y1="0" x2="0" y2="1"><stop offset="0" stop-color="#c8e0c0"/><stop offset="1" stop-color="#38a838"/></linearGradient></defs><circle cx="119" cy="7.9" r="8" fill="url(#rd)"/><path d="M119.3 8 L119.3 15.9 A8 8 0 0 0 127 7.4 A12 12 0 0 1 119.3 8 Z" fill="url(#gs)"/><path d="M119 0 A8 8 0 0 1 127 8 L119.3 8 Z" fill="#d4e4d0" opacity=".8"/><g fill="none" stroke="url(#bg2)"><circle cx="119" cy="7.9" r="7.6" stroke-width="1" stroke-dasharray="20 4 4 3" opacity=".85"/><circle cx="119" cy="7.9" r="4.6" stroke-width="1.1" opacity=".8"/></g><circle cx="118.8" cy="7.6" r="1.9" fill="#2050c8"/><rect x="118.9" y="8" width="1.4" height="7.9" fill="#20a020"/>
<path d="M138.4 7.2 L153.8 6.7 L147.8 15.8 L145.4 15.8 Z" fill="#f8dc58" stroke="#d4a418" stroke-width=".8" stroke-linejoin="round"/><ellipse cx="146.1" cy="4.5" rx="7.7" ry="2.4" fill="#44a8e0" stroke="#2484b8" stroke-width=".8"/><path d="M142.6 3.9 Q142.8 .4 146 -.6 Q149.2 .4 149.4 3.9 Q146 5 142.6 3.9 Z" fill="#7cc8f0" stroke="#2c90c4" stroke-width=".6"/><circle cx="150.6" cy="11.6" r="4.2" fill="#e02410"/><circle cx="150.6" cy="11.6" r="4.2" fill="none" stroke="#b81808" stroke-width=".6"/><rect x="149.2" y="10.2" width="2.8" height="2.8" fill="#fff"/>
<g stroke="#505050" stroke-width="1.1" fill="#505050"><line x1="232.5" y1="3.5" x2="232.5" y2="15.5"/><line x1="230" y1="13.5" x2="242.5" y2="13.5"/><path stroke="none" d="M232.5 1.8 l1.9 3 h-3.8 z M244.2 13.5 l-3 -1.9 v3.8 z"/></g>
<path d="M239.5 3.5 v8.5 M237 10.5 h2.5 M239.5 4.5 h2.5" stroke="#109018" stroke-width="1.4" fill="none"/>
<g stroke="#505050" stroke-width="1.1" fill="#505050"><line x1="260.5" y1="3.5" x2="260.5" y2="15.5"/><line x1="258" y1="13.5" x2="270.5" y2="13.5"/><path stroke="none" d="M260.5 1.8 l1.9 3 h-3.8 z M272.2 13.5 l-3 -1.9 v3.8 z"/></g>
<rect x="266" y="0" width="1.2" height="12" fill="#108018"/><rect x="264" y="2.5" width="5" height="7.5" fill="#38e038" stroke="#108018" stroke-width="1"/>
<g stroke="#505050" stroke-width="1.1" fill="#505050"><line x1="288.5" y1="3.5" x2="288.5" y2="15.5"/><line x1="286" y1="13.5" x2="298.5" y2="13.5"/><path stroke="none" d="M288.5 1.8 l1.9 3 h-3.8 z M300.2 13.5 l-3 -1.9 v3.8 z"/></g>
<path d="M287 11 C290 8 292 5 293.5 5.5 S297 9 299.5 9.5" stroke="#209028" stroke-width="1.3" fill="none"/>
<line x1="328" y1="10" x2="332.5" y2="14.5" stroke="#c89820" stroke-width="3.2" stroke-linecap="round"/><line x1="328.5" y1="9.5" x2="332.5" y2="13.5" stroke="#f0d060" stroke-width="1"/><circle cx="324" cy="6" r="5.4" fill="url(#lens)" stroke="#3878c8" stroke-width="1.4"/><rect x="320.7" y="5.2" width="6.6" height="1.8" fill="#3880c0"/><rect x="323.1" y="2.7" width="1.8" height="6.6" fill="#3880c0"/>
<line x1="356" y1="10" x2="360.5" y2="14.5" stroke="#c89820" stroke-width="3.2" stroke-linecap="round"/><line x1="356.5" y1="9.5" x2="360.5" y2="13.5" stroke="#f0d060" stroke-width="1"/><circle cx="352" cy="6" r="5.4" fill="url(#lens)" stroke="#3878c8" stroke-width="1.4"/><rect x="348.7" y="5.2" width="6.6" height="1.8" fill="#3880c0"/>
<rect x="374" y="0" width="7.8" height="7.8" fill="#2c9c20"/><rect x="375.3" y="3" width="5.4" height="4" fill="#fff"/><rect x="376.3" y="4.2" width="3.4" height="1" fill="#c8f0b0"/>
<rect x="382.2" y="0" width="7.8" height="7.8" fill="#1c50c8"/><rect x="383.5" y="3" width="5.4" height="4" fill="#fff"/><rect x="384.5" y="4.2" width="3.4" height="1" fill="#d0dcff"/>
<rect x="374" y="8.2" width="7.8" height="7.8" fill="#1c50c8"/><rect x="375.3" y="11.2" width="5.4" height="4" fill="#fff"/><rect x="376.3" y="12.399999999999999" width="3.4" height="1" fill="#d0dcff"/>
<rect x="382.2" y="8.2" width="7.8" height="7.8" fill="#2c9c20"/><rect x="383.5" y="11.2" width="5.4" height="4" fill="#fff"/><rect x="384.5" y="12.399999999999999" width="3.4" height="1" fill="#c8f0b0"/>
<g stroke="#505050" stroke-width="1.1" fill="#505050"><line x1="412.5" y1="3.5" x2="412.5" y2="15.5"/><line x1="410" y1="13.5" x2="422.5" y2="13.5"/><path stroke="none" d="M412.5 1.8 l1.9 3 h-3.8 z M424.2 13.5 l-3 -1.9 v3.8 z"/></g>
<path d="M417 4 L421.5 7.5 L417 11 Z" fill="#38d838" stroke="#108018" stroke-width=".9"/>
<g stroke="#505050" stroke-width="1.1" fill="#505050"><line x1="440.5" y1="3.5" x2="440.5" y2="15.5"/><line x1="438" y1="13.5" x2="450.5" y2="13.5"/><path stroke="none" d="M440.5 1.8 l1.9 3 h-3.8 z M452.2 13.5 l-3 -1.9 v3.8 z"/></g>
<rect x="446" y="2" width="1.3" height="10.5" fill="#2070b0"/><path d="M448 7.5 l3 -2.3 v1.5 h2 v1.6 h-2 v1.5 z" fill="#e05010"/>
<path d="M471.5 .5 h7.5 l3 3 v9.5 h-10.5 z" fill="#fafafa" stroke="#909090" stroke-width="1"/><path d="M479 .5 v3 h3" fill="none" stroke="#909090" stroke-width=".8"/><text x="473.5" y="9.5" font-size="9" font-style="italic" fill="#604020" font-family="Liberation Serif">f</text><defs><radialGradient id="pg" cx=".5" cy=".45" r=".6"><stop offset="0" stop-color="#90ff90"/><stop offset=".6" stop-color="#28e028"/><stop offset="1" stop-color="#10b818"/></radialGradient></defs><path d="M479.5 6.2 h3.3 v3.7 h3.9 v3.3 h-3.9 v4.2 h-3.3 v-4.2 h-3.9 v-3.3 h3.9 z" fill="url(#pg)" stroke="#109018" stroke-width=".9" stroke-linejoin="round"/>
<path d="M492.5 7 h6 l-3 3.2 z" fill="#000"/>
<circle cx="517" cy="7.9" r="6.7" fill="#fff" stroke="url(#blu)" stroke-width="2.8"/><circle cx="517" cy="7.9" r="5.2" fill="none" stroke="#c0c8d0" stroke-width=".7" stroke-dasharray=".7 2"/><path d="M516.6 4 v4.2 l2.8 1" stroke="#303030" stroke-width="1" fill="none"/><rect x="515.8" y="-.4" width="2.6" height="1.2" fill="#2870d8"/>
<path d="M531.5 7 h6 l-3 3.2 z" fill="#000"/>
<rect x="548.5" y="1.5" width="15" height="13" fill="#fff" stroke="#3470c0" stroke-width="1.2"/><rect x="548" y="1" width="16" height="3" fill="url(#blu)"/><line x1="549" y1="9.5" x2="563" y2="9.5" stroke="#3470c0" stroke-width="1"/><path d="M550.5 7.5 h2 l1.5 -1.5 h2 l1.2 1 h2 l1.3 -1.3 h1.5" stroke="#a02810" stroke-width="1.3" fill="none"/><path d="M551 13 h1.8 l1.5 -1 1.5 1 2.8 -2.6 2.6 2.6" stroke="#109028" stroke-width="1.3" fill="none"/>
<path d="M570.8 7 h6 l-3 3.2 z" fill="#000"/>
<path d="M600 1 V13.2 L603 10.6 L605.6 15.8 L607.6 14.8 L605 9.8 L609 9.6 Z" fill="#505050"/>
<path d="M625 8.5 h6 M634 8.5 h6.5 M632.5 1 v5.5 M632.5 10.5 v5.5" stroke="#505050" stroke-width="1.2"/><rect x="632" y="8" width="1" height="1" fill="#505050"/>
<rect x="666" y="2" width="1.4" height="13" fill="#505050"/><rect x="689" y="8" width="12.5" height="1.4" fill="#505050"/><line x1="716" y1="14" x2="728" y2="2" stroke="#383838" stroke-width="1.4"/>
<g stroke="#505050" stroke-width="1" fill="none"><path d="M743 10 L756 0 M744.5 13.5 L757.5 3.5 M746 16 L757 7.5"/><path d="M746.5 6 l1 7 M749.5 4 l1 7 M752.5 1.5 l1 7.5 M755.5 0 l1 6" stroke-width=".9"/></g><text x="753.6" y="17.3" font-size="6.8" font-weight="bold" fill="#303030" font-family="Liberation Sans">E</text>
<g stroke="#505050" stroke-width="1" stroke-dasharray="1 1" shape-rendering="crispEdges"><line x1="772" y1="1.5" x2="785.5" y2="1.5"/><line x1="772" y1="4.5" x2="785.5" y2="4.5"/><line x1="772" y1="8.5" x2="785.5" y2="8.5"/><line x1="772" y1="12.5" x2="781" y2="12.5"/></g><text x="782" y="17.3" font-size="6.8" font-weight="bold" fill="#303030" font-family="Liberation Sans">F</text>
<text x="802.7" y="13" textLength="8" lengthAdjust="spacingAndGlyphs" font-size="13" fill="#505050" stroke="#505050" stroke-width=".45" font-family="Liberation Sans">A</text>
<rect x="829.5" y="2.5" width="11" height="12" fill="none" stroke="#505050" stroke-width="1" stroke-dasharray="1 1" shape-rendering="crispEdges"/><path d="M831.2 5.4 h7.7 v1.5 h-3.05 v6.1 h-1.6 v-6.1 h-3.05 z" fill="#505050"/>
<path d="M859.8 1 l3 3 -3 3 -3 -3 z M866.5 9 l3.2 3.2 -3.2 3.2 -3.2 -3.2 z" fill="#383838"/><path d="M857.5 8 l2.6 2.6 5 -5.2" stroke="#383838" stroke-width="1.5" fill="none"/>
<path d="M877 7 h6 l-3 3.2 z" fill="#000"/>
<g font-family="Liberation Sans" font-size="9.7" fill="#404040" text-anchor="middle">
<text transform="translate(910 12) scale(.95 1)">M1</text>
<text transform="translate(938 12) scale(.95 1)">M5</text>
<text transform="translate(966.5 12) scale(.95 1)">M15</text>
<text transform="translate(994.5 12) scale(.95 1)">M30</text>
<text transform="translate(1022.5 12) scale(.95 1)">H1</text>
<text transform="translate(1050 12) scale(.95 1)">H4</text>
<text transform="translate(1078.3 12) scale(.95 1)">D1</text>
<text transform="translate(1107 12) scale(.95 1)">W1</text>
<text transform="translate(1134 12) scale(.95 1)">MN</text>
</g>
<line x1="1616.6" y1="8.4" x2="1612" y2="12.8" stroke="#2458c8" stroke-width="2.6" stroke-linecap="round"/><circle cx="1619.6" cy="5.3" r="3.9" fill="#f0f4ff" stroke="#2458c8" stroke-width="1.5"/>
<path d="M1638 14.8 a7 5.6 0 1 1 4 1.2 l-2.6 1.6 z" fill="#e4e4ec" stroke="#a8a8a8" stroke-width="1"/><circle cx="1650.6" cy="6.3" r="8" fill="url(#redg)"/><text x="1650.5" y="10.3" text-anchor="middle" font-size="12.6" fill="#fff" font-family="Liberation Sans">1</text>
</g>
</svg>
</body></html>
